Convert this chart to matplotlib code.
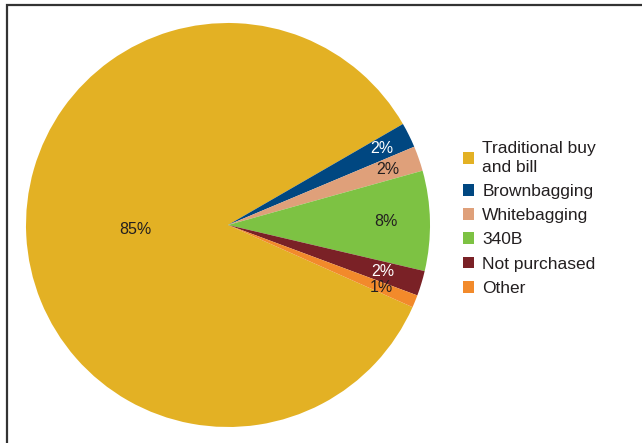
import numpy as np
import matplotlib
matplotlib.use("Agg")
import matplotlib.pyplot as plt
from matplotlib.patches import Rectangle

plt.rcParams['font.family'] = ['Liberation Sans', 'DejaVu Sans']

# purchasing model shares (%)
categories = ["Traditional buy\nand bill", "Brownbagging", "Whitebagging",
              "340B", "Not purchased", "Other"]
shares = [85, 2, 2, 8, 2, 1]
colors = ["#E3B124", "#004781", "#DFA07A", "#7DC243", "#7A2126", "#F28A2B"]
label_colors = ["#231F20", "white", "#231F20", "#231F20", "white", "#231F20"]
label_radius = [0.46, 0.85, 0.84, 0.78, 0.80, 0.82]

fig = plt.figure(figsize=(6.42, 4.43), dpi=100)

# thin frame on the left and top
fig.add_artist(Rectangle((7 / 642, -0.1), 1.2, 1 - 5 / 443 + 0.1,
                         transform=fig.transFigure, fill=False,
                         edgecolor="#333333", linewidth=1.6))

ax = fig.add_axes([26 / 642, 16 / 443, 404 / 642, 404 / 443])
wedges, _ = ax.pie(shares, colors=colors, startangle=-24, counterclock=False,
                   radius=1.0, wedgeprops=dict(linewidth=0))
ax.set_xlim(-1, 1)
ax.set_ylim(-1, 1)
ax.set_aspect("equal")
ax.axis("off")

# percentage labels placed along each wedge's bisector
for w, val, c, r in zip(wedges, shares, label_colors, label_radius):
    mid = np.deg2rad((w.theta1 + w.theta2) / 2)
    ax.text(r * np.cos(mid), r * np.sin(mid), f"{val}%", color=c,
            fontsize=11.5, ha="center", va="center")

leg = fig.legend(wedges, categories, loc="upper left",
                 bbox_to_anchor=(463 / 642, 1 - 141 / 443),
                 frameon=False, fontsize=12.5, handlelength=0.66,
                 handleheight=0.66, handletextpad=0.45, labelspacing=0.53,
                 borderpad=0, borderaxespad=0, labelcolor="#231F20")
for t in leg.get_texts():
    t.set_linespacing(1.32)

fig.savefig("out.png", dpi=100)
